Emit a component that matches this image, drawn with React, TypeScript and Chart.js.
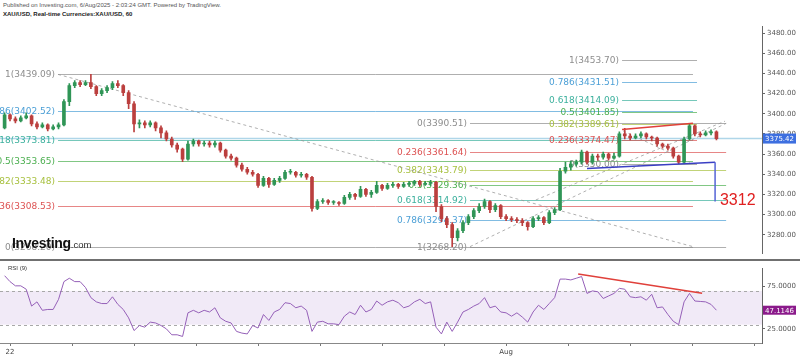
import React, { useEffect, useRef } from "react";
import { Chart, registerables } from "chart.js";
Chart.register(...registerables);

// ---- DATA ----
// 2-hour candles, XAU/USD, positioned in trading hours from the Jul 22 session start
const opens = [3386,3399,3395,3393,3396,3398,3390,3387,3389,3385,3387,3389,3412,3428,3431,3429,3431,3427,3420,3423,3426,3430,3428,3421,3410,3390,3391,3389,3391,3386,3381,3375,3369,3365,3355,3370,3373,3370,3371,3369,3371,3364,3358,3356,3349,3345,3342,3340,3329,3336,3330,3334,3336,3342,3342,3339,3340,3337,3306,3313,3314,3312,3312,3311,3317,3320,3318,3325,3320,3322,3329,3326,3329,3330,3328,3330,3331,3333,3330,3331,3332,3308,3296,3290,3277,3284,3292,3298,3304,3308,3313,3305,3309,3298,3296,3295,3294,3292,3288,3296,3297,3292,3302,3305,3343,3347,3350,3352,3362,3352,3358,3357,3360,3356,3358,3380,3378,3376,3378,3380,3377,3376,3370,3368,3366,3358,3352,3375,3388,3380,3379,3381,3382];
const closes = [3399,3395,3393,3396,3398,3390,3387,3389,3385,3387,3389,3412,3428,3431,3429,3431,3427,3420,3423,3426,3430,3428,3421,3410,3390,3391,3389,3391,3386,3381,3375,3369,3365,3355,3370,3373,3370,3371,3369,3371,3364,3358,3356,3349,3345,3342,3340,3329,3336,3330,3334,3336,3342,3342,3339,3340,3337,3306,3313,3314,3312,3312,3311,3317,3320,3318,3325,3320,3322,3329,3326,3329,3330,3328,3330,3331,3333,3330,3331,3332,3308,3296,3290,3277,3284,3292,3298,3304,3308,3313,3305,3309,3298,3296,3295,3294,3292,3288,3296,3297,3292,3302,3305,3343,3347,3350,3352,3362,3352,3358,3357,3360,3356,3358,3380,3378,3376,3378,3380,3377,3376,3370,3368,3366,3358,3352,3375,3388,3380,3379,3381,3382,3375.42];
const highs = [3401,3400,3397,3398,3401,3399,3392,3391,3390,3389,3391,3414,3430,3433,3433,3433,3439.09,3428,3425,3428,3432,3433,3429,3423,3412,3394,3393,3393,3392,3388,3383,3377,3371,3366,3373,3375,3374,3373,3373,3373,3372,3365,3360,3357,3351,3347,3344,3341,3338,3337,3336,3338,3344,3345,3343,3342,3341,3338,3315,3316,3315,3314,3313,3319,3322,3321,3328,3326,3324,3333,3330,3331,3332,3331,3332,3333,3334,3334,3333,3334,3333,3310,3298,3292,3286,3294,3300,3306,3311,3315.5,3314,3311,3310,3300,3298,3297,3296,3293,3298,3299,3298,3304,3307,3346,3352,3353,3354,3364,3363,3360,3360,3362,3361,3361,3382,3385.5,3380,3380,3382,3381,3378,3377,3371,3370,3367,3359,3377,3390.5,3389,3382,3383,3384,3383];
const lows = [3385,3393,3391,3392,3395,3388,3385,3386,3383,3384,3385,3388,3408,3426,3427,3428,3425,3418,3418,3421,3424,3426,3418,3405,3382,3386,3386,3387,3383,3376,3373,3367,3362,3352.5,3354,3368,3368,3368,3367,3367,3362,3356,3354,3347,3343,3340,3338,3327,3328,3327,3329,3332,3335,3340,3337,3337,3335,3303.5,3305,3311,3310,3310,3309,3310,3315,3315,3317,3318,3317,3321,3324,3325,3327,3326,3327,3328,3329,3328,3329,3329,3303,3293,3287,3268.2,3274,3282,3290,3296,3302,3306,3302,3303,3296,3294,3293,3292,3289,3284.6,3287,3294,3290,3291,3300,3304,3341,3344,3348,3350,3350,3350,3354,3355,3354,3355,3357,3375,3374,3375,3376,3375,3373,3368,3366,3364,3356,3350.4,3351,3374,3378,3377,3378,3379,3374];
const rsiValues = [88,81,76,76,72,52,57,47,48,48,60,81,85,81,81,74,62,57,55,55,63,54,48,38,23,29,27,33,32,29,25,18,18,16,44,47,44,47,45,50,38,34,32,22,20,19,29,26,42,35,45,48,56,55,50,52,47,22,33,34,31,31,30,40,45,42,53,45,48,58,53,57,59,56,50,52,57,60,55,57,27,19,33,22,33,45,48,52,55,62,50,52,45,44,40,44,39,33,45,53,48,55,62,84,84,83,85,87,67,70,69,61,64,67,73,72,63,62,63,59,66,50,51,42,34,30,57,67,58,57.5,57,54,47.1146];

const priceTicks = [3280, 3300, 3320, 3340, 3360, 3380, 3400, 3420, 3440, 3460, 3480];
const rsiTicks = [25, 75];
const rsiBands = [70, 30];
const dayLabels = ["22", "", "", "", "", "", "", "", "Aug", "", "", "", ""];
const HOURS_PER_DAY = 23;
const candleHours = closes.map((_, i) => -2 + 2 * i);

const fibRatios = [1, 0.786, 0.618, 0.5, 0.382, 0.236, 0];
const fibSetA = [3439.09, 3402.52, 3373.81, 3353.65, 3333.48, 3308.53, 3268.2];
const fibSetB = [3268.2, 3294.37, 3314.92, 3329.36, 3343.79, 3361.64, 3390.51];
const fibSetC = [3453.7, 3431.51, 3414.09, 3401.85, 3389.61, 3374.47, 3350.0];
const fibSpanA = [17.8, 253.3];
const fibSpanB = [170.6, 265.6];
const fibSpanC = [227.0, 254.8];
const fibDiagonals = [
  [[17.8, 3439.09], [253.3, 3268.2]],
  [[170.6, 3268.2], [265.6, 3390.51]],
  [[195.0, 3314.5], [265.2, 3392.7]],
  [[227.4, 3383.0], [252.2, 3352.0]],
];
const resistanceLine = [[227.0, 3384.5], [253.3, 3390.5]];
const supportLine = [[214.0, 3345.8], [261.5, 3352.0]];
const targetLine = [[261.5, 3352.0], [261.5, 3313.0]];
const targetLabel = { text: "3312", x: 263.3, y: 3314 };
const rsiDivergence = [[210.7, 90], [256.7, 67.3]];
const lastPrice = closes[closes.length - 1];
const lastRsi = rsiValues[rsiValues.length - 1];

// ---- STYLE ----
const X_MIN = -3.71;
const X_MAX = 278.9;
const UP = "#2f9556";
const DOWN = "#bb3f3e";
const fibColors: Record<string, string> = {
  "1": "#8d8d8d",
  "0.786": "#4b9fd6",
  "0.618": "#3cb09d",
  "0.5": "#4caf50",
  "0.382": "#a7c03e",
  "0.236": "#dd5252",
  "0": "#8d8d8d",
};
const FONT = "'DejaVu Sans', sans-serif";

function line(ctx: CanvasRenderingContext2D, x0: number, y0: number, x1: number, y1: number) {
  ctx.beginPath();
  ctx.moveTo(x0, y0);
  ctx.lineTo(x1, y1);
  ctx.stroke();
}

const pricePlugin = {
  id: "priceOverlay",
  beforeDatasetsDraw(chart: any) {
    const { ctx, chartArea, scales } = chart;
    const x = scales.x, y = scales.y;
    ctx.save();
    ctx.beginPath();
    ctx.rect(0, chartArea.top, chartArea.right, chartArea.bottom - chartArea.top);
    ctx.clip();
    ctx.strokeStyle = "rgba(110,180,215,0.55)";
    ctx.lineWidth = 1.5;
    const lp = y.getPixelForValue(lastPrice);
    line(ctx, chartArea.left, lp, chartArea.right, lp);
    const sets = [
      { vals: fibSetA, span: fibSpanA },
      { vals: fibSetB, span: fibSpanB },
      { vals: fibSetC, span: fibSpanC },
    ];
    ctx.font = "9px " + FONT;
    ctx.textAlign = "right";
    ctx.textBaseline = "middle";
    sets.forEach((s) => {
      const x0 = x.getPixelForValue(s.span[0]);
      const x1 = x.getPixelForValue(s.span[1]);
      s.vals.forEach((v, i) => {
        const c = fibColors[String(fibRatios[i])];
        const py = Math.round(y.getPixelForValue(v)) + 0.5;
        ctx.globalAlpha = 0.7;
        ctx.strokeStyle = c;
        ctx.lineWidth = 1;
        line(ctx, x0, py, x1, py);
        ctx.globalAlpha = 1;
        ctx.fillStyle = c;
        ctx.fillText(`${fibRatios[i]}(${v.toFixed(2)})`, x0 - 3, py);
      });
    });
    ctx.setLineDash([3, 3]);
    ctx.strokeStyle = "rgba(150,150,150,0.75)";
    ctx.lineWidth = 1;
    fibDiagonals.forEach((d) => {
      line(ctx, x.getPixelForValue(d[0][0]), y.getPixelForValue(d[0][1]), x.getPixelForValue(d[1][0]), y.getPixelForValue(d[1][1]));
    });
    ctx.setLineDash([]);
    ctx.restore();
  },
  afterDatasetsDraw(chart: any) {
    const { ctx, scales } = chart;
    const x = scales.x, y = scales.y;
    ctx.save();
    ctx.lineWidth = 1.5;
    ctx.strokeStyle = "#e0403a";
    line(ctx, x.getPixelForValue(resistanceLine[0][0]), y.getPixelForValue(resistanceLine[0][1]), x.getPixelForValue(resistanceLine[1][0]), y.getPixelForValue(resistanceLine[1][1]));
    ctx.strokeStyle = "#3a3fc4";
    line(ctx, x.getPixelForValue(supportLine[0][0]), y.getPixelForValue(supportLine[0][1]), x.getPixelForValue(supportLine[1][0]), y.getPixelForValue(supportLine[1][1]));
    ctx.strokeStyle = "#5563d6";
    line(ctx, x.getPixelForValue(targetLine[0][0]), y.getPixelForValue(targetLine[0][1]), x.getPixelForValue(targetLine[1][0]), y.getPixelForValue(targetLine[1][1]));
    ctx.fillStyle = "#e02020";
    ctx.font = "16px 'Liberation Sans', Arial, sans-serif";
    ctx.textAlign = "left";
    ctx.textBaseline = "middle";
    ctx.fillText(targetLabel.text, x.getPixelForValue(targetLabel.x), y.getPixelForValue(targetLabel.y));
    ctx.restore();
  },
  afterDraw(chart: any) {
    const { ctx, chartArea, scales } = chart;
    const py = scales.y.getPixelForValue(lastPrice);
    ctx.save();
    ctx.fillStyle = "#3d6fe0";
    ctx.fillRect(chartArea.right + 1, py - 5, 33, 10);
    ctx.fillStyle = "#ffffff";
    ctx.font = "7px " + FONT;
    ctx.textAlign = "center";
    ctx.textBaseline = "middle";
    ctx.fillText(lastPrice.toFixed(2), chartArea.right + 17.5, py + 0.5);
    ctx.restore();
  },
};

const rsiPlugin = {
  id: "rsiOverlay",
  beforeDatasetsDraw(chart: any) {
    const { ctx, chartArea, scales } = chart;
    const y = scales.y;
    const yTop = y.getPixelForValue(rsiBands[0]);
    const yBot = y.getPixelForValue(rsiBands[1]);
    ctx.save();
    ctx.fillStyle = "rgba(150,90,190,0.13)";
    ctx.fillRect(chartArea.left, yTop, chartArea.right - chartArea.left, yBot - yTop);
    ctx.setLineDash([3, 3]);
    ctx.strokeStyle = "#a8a8a8";
    ctx.lineWidth = 1;
    rsiBands.forEach((b) => {
      const p = Math.round(y.getPixelForValue(b)) + 0.5;
      line(ctx, chartArea.left, p, chartArea.right, p);
    });
    ctx.setLineDash([]);
    ctx.restore();
  },
  afterDatasetsDraw(chart: any) {
    const { ctx, scales } = chart;
    const x = scales.x, y = scales.y;
    ctx.save();
    ctx.strokeStyle = "#e0403a";
    ctx.lineWidth = 1.5;
    line(ctx, x.getPixelForValue(rsiDivergence[0][0]), y.getPixelForValue(rsiDivergence[0][1]), x.getPixelForValue(rsiDivergence[1][0]), y.getPixelForValue(rsiDivergence[1][1]));
    ctx.restore();
  },
  afterDraw(chart: any) {
    const { ctx, chartArea, scales } = chart;
    const py = scales.y.getPixelForValue(lastRsi);
    ctx.save();
    ctx.fillStyle = "#8b1a8b";
    ctx.fillRect(chartArea.right + 1, py - 4.5, 33, 9);
    ctx.fillStyle = "#ffffff";
    ctx.font = "7px " + FONT;
    ctx.textAlign = "center";
    ctx.textBaseline = "middle";
    ctx.fillText(lastRsi.toFixed(4), chartArea.right + 17.5, py + 0.5);
    ctx.restore();
  },
};

export default function App() {
  const priceRef = useRef<HTMLCanvasElement>(null);
  const rsiRef = useRef<HTMLCanvasElement>(null);

  useEffect(() => {
    Chart.defaults.font.family = FONT;
    const isUp = (i: number) => closes[i] >= opens[i];
    const priceChart = new Chart(priceRef.current as HTMLCanvasElement, {
      type: "bar",
      data: {
        datasets: [
          {
            data: candleHours.map((h, i) => ({ x: h, y: [lows[i], highs[i]] })) as any,
            backgroundColor: (c: any) => (isUp(c.dataIndex) ? UP : DOWN),
            barThickness: 1,
            grouped: false,
            order: 2,
          } as any,
          {
            data: candleHours.map((h, i) => ({ x: h, y: [opens[i], closes[i]] })) as any,
            backgroundColor: (c: any) => (isUp(c.dataIndex) ? UP : DOWN),
            barThickness: 3,
            minBarLength: 1,
            grouped: false,
            order: 1,
          } as any,
        ],
      },
      options: {
        animation: false,
        responsive: false,
        maintainAspectRatio: false,
        layout: { padding: 0, autoPadding: false } as any,
        plugins: { legend: { display: false }, tooltip: { enabled: false } },
        scales: {
          x: { type: "linear", min: X_MIN, max: X_MAX, display: false, offset: false, grid: { display: false } },
          y: {
            position: "right",
            min: 3261.1,
            max: 3486.9,
            afterFit: (s: any) => { s.width = 38; },
            afterBuildTicks: (s: any) => { s.ticks = priceTicks.map((v) => ({ value: v })); },
            ticks: { callback: (v: any) => Number(v).toFixed(2), font: { size: 7 }, color: "#555", padding: 2 },
            grid: { drawOnChartArea: false, drawTicks: true, tickLength: 3, color: "#666" },
            border: { display: true, color: "#666" },
          },
        },
      } as any,
      plugins: [pricePlugin],
    });

    const rsiChart = new Chart(rsiRef.current as HTMLCanvasElement, {
      type: "line",
      data: {
        datasets: [
          {
            data: rsiValues.map((v, i) => ({ x: candleHours[i], y: v })),
            borderColor: "#9560b8",
            borderWidth: 1,
            pointRadius: 0,
            tension: 0,
          },
        ],
      },
      options: {
        animation: false,
        responsive: false,
        maintainAspectRatio: false,
        layout: { padding: 0, autoPadding: false } as any,
        plugins: { legend: { display: false }, tooltip: { enabled: false } },
        scales: {
          x: {
            type: "linear",
            min: X_MIN,
            max: X_MAX,
            offset: false,
            afterFit: (s: any) => { s.height = 15; },
            afterBuildTicks: (s: any) => { s.ticks = dayLabels.map((_, i) => ({ value: i * HOURS_PER_DAY })); },
            ticks: { callback: (_v: any, i: number) => dayLabels[i], font: { size: 7 }, color: "#444", padding: 2, maxRotation: 0, autoSkip: false },
            grid: { drawOnChartArea: false, drawTicks: true, tickLength: 3, color: "#777" },
            border: { display: true, color: "#888" },
          },
          y: {
            position: "right",
            min: 8.26,
            max: 96.9,
            afterFit: (s: any) => { s.width = 38; },
            afterBuildTicks: (s: any) => { s.ticks = rsiTicks.map((v) => ({ value: v })); },
            ticks: { callback: (v: any) => Number(v).toFixed(4), font: { size: 7 }, color: "#555", padding: 2 },
            grid: { drawOnChartArea: false, drawTicks: true, tickLength: 3, color: "#666" },
            border: { display: true, color: "#666" },
          },
        },
      } as any,
      plugins: [rsiPlugin],
    });

    return () => {
      priceChart.destroy();
      rsiChart.destroy();
    };
  }, []);

  return (
    <div style={{ position: "absolute", left: 0, top: 0, width: 800, height: 358, background: "#fff", overflow: "hidden", fontFamily: "'Liberation Sans', Arial, sans-serif" }}>
      <div style={{ position: "absolute", left: 3, top: 2, fontSize: 6, color: "#555", whiteSpace: "nowrap" }}>
        Published on Investing.com, 6/Aug/2025 - 2:03:24 GMT. Powered by TradingView.
      </div>
      <div style={{ position: "absolute", left: 3, top: 11, fontSize: 6, fontWeight: "bold", color: "#222", whiteSpace: "nowrap" }}>
        XAU/USD, Real-time Currencies:XAU/USD, 60
      </div>
      <canvas ref={priceRef} width={800} height={240} style={{ position: "absolute", left: 0, top: 20, width: 800, height: 240 }} />
      <div style={{ position: "absolute", left: 0, top: 259, width: 800, height: 2, background: "#707070" }} />
      <canvas ref={rsiRef} width={800} height={96} style={{ position: "absolute", left: 0, top: 262, width: 800, height: 96 }} />
      <div style={{ position: "absolute", left: 12, top: 236, whiteSpace: "nowrap", lineHeight: "14px" }}>
        <span style={{ fontSize: 14, fontWeight: "bold", color: "#111", letterSpacing: -0.3 }}>Investing</span>
        <span style={{ fontSize: 9.5, color: "#333" }}>.com</span>
      </div>
      <div style={{ position: "absolute", left: 8, top: 265, fontSize: 6, color: "#333", whiteSpace: "nowrap" }}>RSI (9)</div>
    </div>
  );
}
